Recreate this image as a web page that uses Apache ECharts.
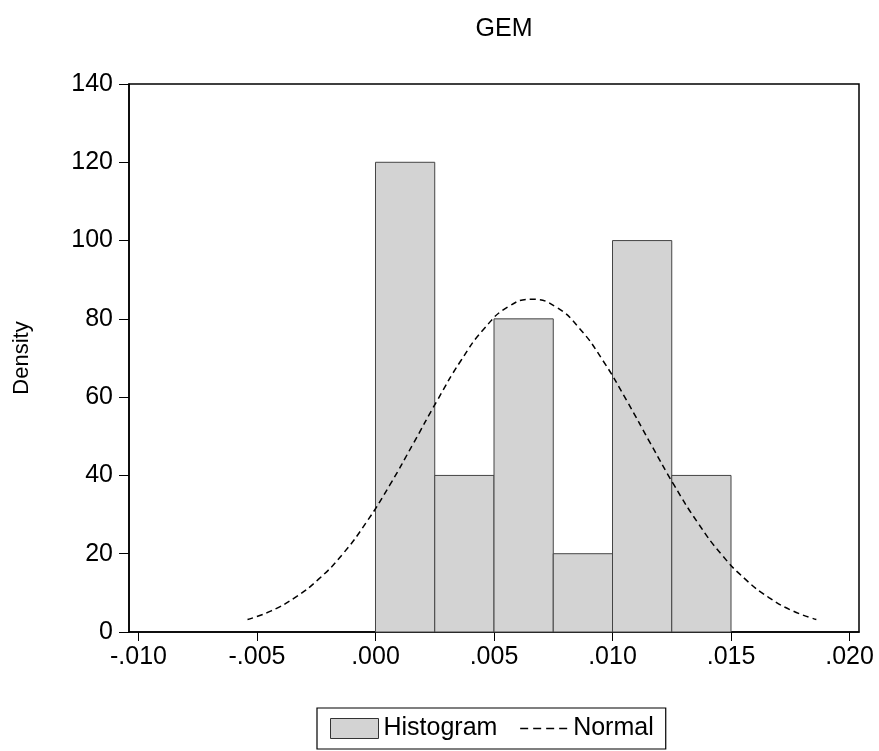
<!DOCTYPE html>
<html>
<head>
<meta charset="utf-8">
<script src="https://cdn.jsdelivr.net/npm/echarts@6/dist/echarts.min.js"></script>
<style>
html,body{margin:0;padding:0;background:#fff;}
#chart{width:879px;height:751px;}
</style>
</head>
<body>
<div id="chart"></div>
<script>
// Histogram bins (lower edge, upper edge) and densities
const binLo = [0.0000, 0.0025, 0.0050, 0.0075, 0.0100, 0.0125];
const binHi = [0.0025, 0.0050, 0.0075, 0.0100, 0.0125, 0.0150];
const density = [120, 40, 80, 20, 100, 40];

// Normal curve points
const normalX = [-0.0054, -0.0044, -0.0034, -0.0024, -0.0014, -0.0004, 0.0006, 0.0016, 0.0026, 0.0036, 0.0046, 0.0056, 0.0066,
                 0.0076, 0.0086, 0.0096, 0.0106, 0.0116, 0.0126, 0.0136, 0.0146, 0.0156, 0.0166, 0.0176, 0.0186];
const normalY = [3.2, 5.4, 8.8, 13.5, 19.8, 27.9, 37.5, 48.2, 59.1, 69.3, 77.6, 83.1, 85.0,
                 83.1, 77.6, 69.3, 59.1, 48.2, 37.5, 27.9, 19.8, 13.5, 8.8, 5.4, 3.2];

// Tick values
const xTicks = [-0.010, -0.005, 0.000, 0.005, 0.010, 0.015, 0.020];
const yTicks = [0, 20, 40, 60, 80, 100, 120, 140];

const FONT = '"Liberation Sans", Arial, sans-serif';

function fmtX(v) {
  const s = Math.abs(v).toFixed(3).replace(/^0/, '');
  return (v < -1e-12 ? '-' : '') + s;
}

const histData = binLo.map((lo, i) => [lo, binHi[i], density[i]]);
const normalData = normalX.map((x, i) => [x, normalY[i]]);

const chart = echarts.init(document.getElementById('chart'), null, {renderer: 'canvas'});
chart.setOption({
  animation: false,
  backgroundColor: '#fff',
  title: {
    text: 'GEM',
    left: 499,
    top: 12,
    textAlign: 'center',
    textStyle: {fontFamily: FONT, fontSize: 25, fontWeight: 'normal', color: '#000'}
  },
  grid: {
    left: 129, right: 20, top: 84, bottom: 119,
    show: true, borderColor: '#000', borderWidth: 1.5, backgroundColor: 'transparent'
  },
  legend: {
    left: 317, top: 708,
    padding: [8, 12, 8, 13],
    borderColor: '#000', borderWidth: 1.2,
    itemWidth: 48, itemHeight: 20, itemGap: 22,
    textStyle: {fontFamily: FONT, fontSize: 25, color: '#000'},
    data: [
      {name: 'Histogram', icon: 'rect', itemStyle: {color: '#d3d3d3', borderColor: '#333', borderWidth: 1}},
      {name: 'Normal', itemStyle: {color: 'rgba(0,0,0,0)', borderColor: 'rgba(0,0,0,0)', borderWidth: 0},
       lineStyle: {color: '#000', width: 1.5, type: [8, 5]}}
    ]
  },
  xAxis: {
    type: 'value',
    min: -0.0104, max: 0.0204,
    splitLine: {show: false},
    axisLine: {show: true, onZero: false, lineStyle: {color: '#000', width: 1.5}},
    axisTick: {show: true, inside: false, length: 9, customValues: xTicks, lineStyle: {color: '#000', width: 1}},
    axisLabel: {customValues: xTicks, formatter: fmtX, margin: 13, fontFamily: FONT, fontSize: 25, color: '#000'}
  },
  yAxis: {
    type: 'value',
    min: 0, max: 140, interval: 20,
    name: 'Density',
    nameLocation: 'middle',
    nameRotate: 90,
    nameGap: 96,
    nameTextStyle: {fontFamily: FONT, fontSize: 22, color: '#000'},
    splitLine: {show: false},
    axisLine: {show: true, onZero: false, lineStyle: {color: '#000', width: 1.5}},
    axisTick: {show: true, inside: false, length: 10, lineStyle: {color: '#000', width: 1}},
    axisLabel: {margin: 16, fontFamily: FONT, fontSize: 25, color: '#000',
      formatter: v => String(v)}
  },
  series: [
    {
      name: 'Histogram',
      type: 'custom',
      data: histData,
      encode: {x: [0, 1], y: 2},
      itemStyle: {color: '#d3d3d3'},
      renderItem: function (params, api) {
        const lo = api.value(0), hi = api.value(1), v = api.value(2);
        const p1 = api.coord([lo, v]);
        const p2 = api.coord([hi, 0]);
        return {
          type: 'rect',
          shape: {x: p1[0], y: p1[1], width: p2[0] - p1[0], height: p2[1] - p1[1]},
          style: {fill: '#d3d3d3', stroke: '#444', lineWidth: 1}
        };
      },
      z: 2
    },
    {
      name: 'Normal',
      type: 'line',
      data: normalData,
      smooth: true,
      symbol: 'none',
      itemStyle: {color: '#000'},
      lineStyle: {color: '#000', width: 1.5, type: [6, 4]},
      z: 3
    }
  ]
});
</script>
</body>
</html>
